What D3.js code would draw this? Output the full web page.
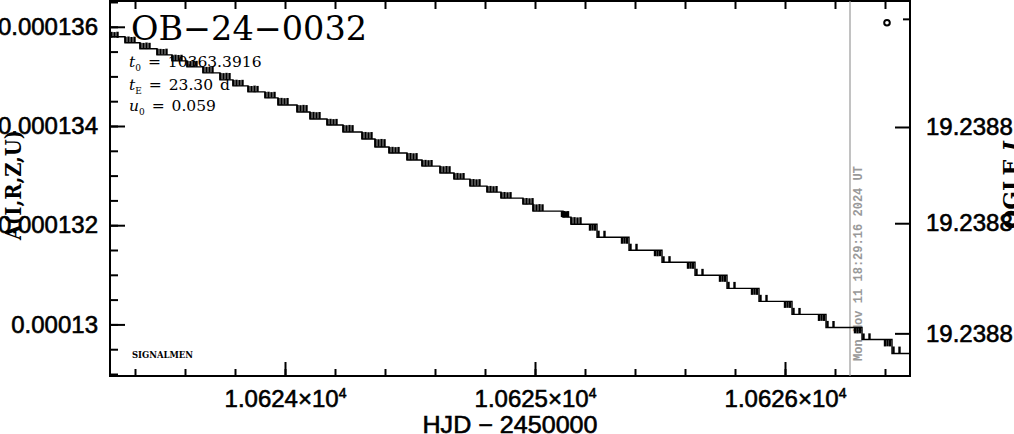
<!DOCTYPE html>
<html><head><meta charset="utf-8">
<script src="https://cdn.jsdelivr.net/npm/d3@7"></script>
<style>body{margin:0;background:#fff}svg{display:block}</style>
</head><body><svg id="c" width="1014" height="434"></svg>
<script>
// ---- model curve (step line) ----
const stepTimes = [10623.300,10623.360,10623.420,10623.488,10623.548,10623.608,10623.672,10623.740,10623.792,10623.852,
  10623.920,10623.972,10624.048,10624.100,10624.168,10624.232,10624.308,10624.360,10624.416,10624.488,
  10624.548,10624.620,10624.676,10624.740,10624.808,10624.864,10624.952,10624.992,10625.112,10625.144,
  10625.248,10625.376,10625.508,10625.640,10625.768,10625.896,10626.028,10626.164,10626.308,10626.428,10626.500];
const stepValues = [135.798e-6,135.677e-6,135.556e-6,135.434e-6,135.313e-6,135.192e-6,135.071e-6,134.929e-6,134.808e-6,134.687e-6,
  134.566e-6,134.424e-6,134.283e-6,134.141e-6,134.020e-6,133.879e-6,133.737e-6,133.576e-6,133.455e-6,133.313e-6,
  133.192e-6,133.051e-6,132.929e-6,132.788e-6,132.667e-6,132.545e-6,132.424e-6,132.283e-6,132.162e-6,132.020e-6,
  131.758e-6,131.495e-6,131.253e-6,130.990e-6,130.727e-6,130.465e-6,130.202e-6,129.939e-6,129.697e-6,129.414e-6,129.414e-6];

// ---- observations (time, value, error) ----
const obsTimes = [10623.306,10623.318,10623.330,
  10623.362,10623.374,10623.386,10623.398, 10623.422,10623.434,10623.446,10623.458, 10623.490,10623.502,10623.514,10623.526,
  10623.550,10623.562,10623.574,10623.586, 10623.610,10623.622,10623.634,10623.646, 10623.674,10623.686,10623.698,10623.710,
  10623.742,10623.754,10623.766,10623.778, 10623.794,10623.806,10623.818,10623.830, 10623.854,10623.866,10623.878,10623.890,
  10623.922,10623.934,10623.946,10623.958, 10623.974,10623.986,10623.998,10624.010, 10624.050,10624.062,10624.074,10624.086,
  10624.102,10624.114,10624.126,10624.138, 10624.170,10624.182,10624.194,10624.206, 10624.234,10624.246,10624.258,10624.270,
  10624.310,10624.322,10624.334,10624.346, 10624.362,10624.374,10624.386,10624.398, 10624.418,10624.430,10624.442,10624.454,
  10624.490,10624.502,10624.514,10624.526, 10624.550,10624.562,10624.574,10624.586, 10624.622,10624.634,10624.646,10624.658,
  10624.678,10624.690,10624.702,10624.714, 10624.742,10624.754,10624.766,10624.778, 10624.810,10624.822,10624.834,10624.846,
  10624.866,10624.878,10624.890,10624.902, 10624.954,10624.966,10624.978,10624.990, 10624.994,10625.006,10625.018,10625.030,
  10625.108,10625.116,10625.124,10625.132, 10625.146,10625.158,10625.170,10625.182,
  10625.220,10625.230,10625.240,10625.254,10625.278, 10625.348,10625.358,10625.368,10625.382,10625.406,
  10625.480,10625.490,10625.500,10625.514,10625.538, 10625.612,10625.622,10625.632,10625.646,10625.670,
  10625.740,10625.750,10625.760,10625.774,10625.798, 10625.868,10625.878,10625.888,10625.902,10625.926,
  10626.000,10626.010,10626.020,10626.034,10626.058, 10626.136,10626.146,10626.156,10626.170,10626.194,
  10626.280,10626.290,10626.300,10626.314,10626.338, 10626.400,10626.410,10626.420,10626.434,10626.458];
const obsValues = [135.838e-6,135.838e-6,135.838e-6,
  135.738e-6,135.738e-6,135.738e-6,135.738e-6, 135.617e-6,135.617e-6,135.617e-6,135.617e-6, 135.495e-6,135.495e-6,135.495e-6,135.495e-6,
  135.374e-6,135.374e-6,135.374e-6,135.374e-6, 135.253e-6,135.253e-6,135.253e-6,135.253e-6, 135.132e-6,135.132e-6,135.132e-6,135.132e-6,
  135.000e-6,135.000e-6,135.000e-6,135.000e-6, 134.869e-6,134.869e-6,134.869e-6,134.869e-6, 134.748e-6,134.748e-6,134.748e-6,134.748e-6,
  134.627e-6,134.627e-6,134.627e-6,134.627e-6, 134.495e-6,134.495e-6,134.495e-6,134.495e-6, 134.354e-6,134.354e-6,134.354e-6,134.354e-6,
  134.212e-6,134.212e-6,134.212e-6,134.212e-6, 134.081e-6,134.081e-6,134.081e-6,134.081e-6, 133.950e-6,133.950e-6,133.950e-6,133.950e-6,
  133.808e-6,133.808e-6,133.808e-6,133.808e-6, 133.657e-6,133.657e-6,133.657e-6,133.657e-6, 133.516e-6,133.516e-6,133.516e-6,133.516e-6,
  133.384e-6,133.384e-6,133.384e-6,133.384e-6, 133.253e-6,133.253e-6,133.253e-6,133.253e-6, 133.122e-6,133.122e-6,133.122e-6,133.122e-6,
  132.990e-6,132.990e-6,132.990e-6,132.990e-6, 132.859e-6,132.859e-6,132.859e-6,132.859e-6, 132.728e-6,132.728e-6,132.728e-6,132.728e-6,
  132.606e-6,132.606e-6,132.606e-6,132.606e-6, 132.485e-6,132.485e-6,132.485e-6,132.485e-6, 132.354e-6,132.354e-6,132.354e-6,132.354e-6,
  132.223e-6,132.223e-6,132.223e-6,132.223e-6, 132.091e-6,132.091e-6,132.091e-6,132.091e-6,
  131.955e-6,131.955e-6,131.955e-6,131.824e-6,131.824e-6, 131.692e-6,131.692e-6,131.692e-6,131.561e-6,131.561e-6,
  131.435e-6,131.435e-6,131.435e-6,131.314e-6,131.314e-6, 131.187e-6,131.187e-6,131.187e-6,131.056e-6,131.056e-6,
  130.924e-6,130.924e-6,130.924e-6,130.793e-6,130.793e-6, 130.662e-6,130.662e-6,130.662e-6,130.531e-6,130.531e-6,
  130.399e-6,130.399e-6,130.399e-6,130.268e-6,130.268e-6, 130.136e-6,130.136e-6,130.136e-6,130.005e-6,130.005e-6,
  129.879e-6,129.879e-6,129.879e-6,129.758e-6,129.758e-6, 129.626e-6,129.626e-6,129.626e-6,129.485e-6,129.485e-6];
const obsErrors = [0.060e-6,0.055e-6,0.062e-6,
  0.060e-6,0.066e-6,0.056e-6,0.062e-6, 0.061e-6,0.058e-6,0.066e-6,0.060e-6, 0.062e-6,0.060e-6,0.057e-6,0.064e-6,
  0.060e-6,0.064e-6,0.058e-6,0.062e-6, 0.061e-6,0.056e-6,0.064e-6,0.060e-6, 0.062e-6,0.060e-6,0.058e-6,0.066e-6,
  0.070e-6,0.066e-6,0.072e-6,0.068e-6, 0.060e-6,0.064e-6,0.058e-6,0.062e-6, 0.061e-6,0.058e-6,0.066e-6,0.060e-6,
  0.060e-6,0.064e-6,0.056e-6,0.062e-6, 0.070e-6,0.072e-6,0.066e-6,0.070e-6, 0.070e-6,0.066e-6,0.072e-6,0.068e-6,
  0.070e-6,0.072e-6,0.066e-6,0.070e-6, 0.060e-6,0.064e-6,0.058e-6,0.062e-6, 0.070e-6,0.066e-6,0.072e-6,0.068e-6,
  0.070e-6,0.072e-6,0.066e-6,0.070e-6, 0.080e-6,0.076e-6,0.082e-6,0.078e-6, 0.060e-6,0.064e-6,0.058e-6,0.062e-6,
  0.070e-6,0.072e-6,0.066e-6,0.070e-6, 0.060e-6,0.064e-6,0.058e-6,0.062e-6, 0.070e-6,0.066e-6,0.072e-6,0.068e-6,
  0.060e-6,0.064e-6,0.058e-6,0.062e-6, 0.070e-6,0.072e-6,0.066e-6,0.070e-6, 0.060e-6,0.064e-6,0.058e-6,0.062e-6,
  0.060e-6,0.064e-6,0.058e-6,0.062e-6, 0.060e-6,0.064e-6,0.058e-6,0.062e-6, 0.070e-6,0.066e-6,0.072e-6,0.068e-6,
  0.060e-6,0.064e-6,0.058e-6,0.062e-6, 0.070e-6,0.072e-6,0.066e-6,0.070e-6,
  0.066e-6,0.064e-6,0.066e-6,0.066e-6,0.064e-6, 0.066e-6,0.064e-6,0.066e-6,0.066e-6,0.064e-6,
  0.060e-6,0.062e-6,0.060e-6,0.060e-6,0.062e-6, 0.066e-6,0.064e-6,0.066e-6,0.066e-6,0.064e-6,
  0.066e-6,0.064e-6,0.066e-6,0.066e-6,0.064e-6, 0.066e-6,0.064e-6,0.066e-6,0.066e-6,0.064e-6,
  0.066e-6,0.064e-6,0.066e-6,0.066e-6,0.064e-6, 0.066e-6,0.064e-6,0.066e-6,0.066e-6,0.064e-6,
  0.060e-6,0.062e-6,0.060e-6,0.060e-6,0.062e-6, 0.070e-6,0.068e-6,0.070e-6,0.070e-6,0.068e-6];

// ---- axes ----
const xDomain = [10623.3, 10626.5];
const yDomain = [128.96e-6, 136.54e-6];
const leftTickValues = [130e-6, 132e-6, 134e-6, 136e-6];
const leftTickLabels = ["0.00013", "0.000132", "0.000134", "0.000136"];
const bottomTickValues = [10624, 10625, 10626];
const bottomTickMantissas = ["1.0624", "1.0625", "1.0626"];
const rightTickValues = [133.98e-6, 132.04e-6, 129.82e-6];
const rightTickLabels = ["19.2388", "19.2388", "19.2388"];
const rightMinorValues = [136.16e-6];

// ---- annotations ----
const eventName = "OB\u221224\u22120032";
const paramT0 = "10363.3916";
const paramTE = "23.30 d";
const paramU0 = "0.059";
const nowHJD = 10626.26;
const nowLabel = "Mon Nov 11 18:29:16 2024 UT";
const markerTime = 10626.408, markerValue = 136.08e-6;

const svg = d3.select("#c");
const L = 110, R = 910, T = 1, B = 376;
const x = d3.scaleLinear().domain(xDomain).range([L, R]);
const y = d3.scaleLinear().domain(yDomain).range([B, 0]);

const labelFont = "'Liberation Sans', Arial, sans-serif";
const serif = "'DejaVu Serif', serif";

function styleAxis(g) {
  g.select(".domain").remove();
  g.selectAll(".tick line").attr("stroke", "#000").attr("stroke-width", 2);
  g.selectAll("text").attr("font-family", labelFont).attr("font-size", 24).attr("fill", "#000")
    .attr("stroke", "#000").attr("stroke-width", 0.6);
}

const xMinor = d3.range(10623.4, 10626.45, 0.2);
const yMinor = d3.range(129e-6, 136.51e-6, 0.5e-6);

// bottom
svg.append("g").attr("transform", `translate(0,${B})`)
  .call(d3.axisBottom(x).tickValues(xMinor).tickSizeInner(-7).tickSizeOuter(0).tickFormat(() => "")).call(styleAxis);
const gb = svg.append("g").attr("transform", `translate(0,${B})`)
  .call(d3.axisBottom(x).tickValues(bottomTickValues).tickSizeInner(-14).tickSizeOuter(0).tickPadding(0).tickFormat(() => ""))
  .call(styleAxis);
gb.selectAll(".tick text").each(function(d, i) {
  const t = d3.select(this).attr("y", 31).attr("dy", null);
  t.append("tspan").text(bottomTickMantissas[i] + "\u00d710");
  t.append("tspan").attr("font-size", 14).attr("dy", -9).text("4");
});
// top
svg.append("g").attr("transform", `translate(0,${T})`)
  .call(d3.axisTop(x).tickValues(xMinor).tickSizeInner(-8).tickSizeOuter(0).tickFormat(() => "")).call(styleAxis);
// left
svg.append("g").attr("transform", `translate(${L},0)`)
  .call(d3.axisLeft(y).tickValues(yMinor).tickSizeInner(-8).tickSizeOuter(0).tickFormat(() => "")).call(styleAxis);
svg.append("g").attr("transform", `translate(${L},0)`)
  .call(d3.axisLeft(y).tickValues(leftTickValues).tickSizeInner(-15).tickSizeOuter(0).tickPadding(12)
    .tickFormat((d, i) => leftTickLabels[i])).call(styleAxis);
// right
svg.append("g").attr("transform", `translate(${R},0)`)
  .call(d3.axisRight(y).tickValues(rightMinorValues).tickSizeInner(-7).tickSizeOuter(0).tickFormat(() => "")).call(styleAxis);
svg.append("g").attr("transform", `translate(${R},0)`)
  .call(d3.axisRight(y).tickValues(rightTickValues).tickSizeInner(-15).tickSizeOuter(0).tickPadding(16)
    .tickFormat((d, i) => rightTickLabels[i])).call(styleAxis);

// frame
svg.append("rect").attr("x", L).attr("y", T).attr("width", R - L).attr("height", B - T)
  .attr("fill", "none").attr("stroke", "#000").attr("stroke-width", 2);

// now line
svg.append("line").attr("x1", x(nowHJD)).attr("x2", x(nowHJD)).attr("y1", T).attr("y2", B)
  .attr("stroke", "#999").attr("stroke-width", 1.2);
svg.append("text").attr("transform", `translate(${x(nowHJD) + 12},361) rotate(-90)`)
  .attr("font-family", "'Liberation Mono', 'DejaVu Sans Mono', monospace").attr("font-weight", "bold")
  .attr("font-size", 12.5).attr("fill", "#999").attr("textLength", 195).attr("lengthAdjust", "spacingAndGlyphs")
  .text(nowLabel);

// model step line
const stepData = stepTimes.map((t, i) => [t, stepValues[i]]);
svg.append("path").datum(stepData)
  .attr("d", d3.line().x(d => x(d[0])).y(d => y(d[1])).curve(d3.curveStepAfter))
  .attr("fill", "none").attr("stroke", "#000").attr("stroke-width", 1.4);

// observations as error bars
const obs = obsTimes.map((t, i) => ({t, v: obsValues[i], e: obsErrors[i]}));
svg.append("g").selectAll("line").data(obs).join("line")
  .attr("x1", d => x(d.t)).attr("x2", d => x(d.t))
  .attr("y1", d => y(d.v + d.e)).attr("y2", d => y(d.v - d.e))
  .attr("stroke", "#000").attr("stroke-width", 2.4);

// marker circle
svg.append("circle").attr("cx", x(markerTime)).attr("cy", y(markerValue)).attr("r", 2.8)
  .attr("fill", "none").attr("stroke", "#000").attr("stroke-width", 2);

// title + parameters
svg.append("text").attr("x", 131).attr("y", 40).attr("font-family", serif).attr("font-size", 33)
  .attr("textLength", 236).attr("lengthAdjust", "spacingAndGlyphs")
  .attr("fill", "#000").text(eventName);
function param(yb, sym, sub, val) {
  const t = svg.append("text").attr("x", 129).attr("y", yb).attr("font-family", serif)
    .attr("font-size", 15.5).attr("fill", "#000").attr("word-spacing", 2);
  t.append("tspan").attr("font-style", "italic").text(sym);
  t.append("tspan").attr("font-size", 9).attr("dy", 4).text(sub);
  t.append("tspan").attr("dy", -4).text(" = " + val);
}
param(67, "t", "0", paramT0);
param(90, "t", "E", paramTE);
param(111, "u", "0", paramU0);

svg.append("text").attr("x", 132).attr("y", 358).attr("font-family", serif).attr("font-weight", "bold")
  .attr("font-size", 8.5).attr("textLength", 61).attr("lengthAdjust", "spacingAndGlyphs").text("SIGNALMEN");

// axis titles
svg.append("text").attr("x", 510).attr("y", 433).attr("text-anchor", "middle")
  .attr("font-family", labelFont).attr("font-size", 24).attr("textLength", 175)
  .attr("stroke", "#000").attr("stroke-width", 0.6)
  .attr("lengthAdjust", "spacingAndGlyphs").text("HJD \u2212 2450000");
svg.append("text").attr("transform", "translate(21,240) rotate(-90)")
  .attr("font-family", serif).attr("font-weight", "bold").attr("font-size", 22)
  .attr("textLength", 110).attr("lengthAdjust", "spacingAndGlyphs").text("A(I,R,Z,U)");
const rl = svg.append("text").attr("transform", "translate(1019,229) rotate(-90)")
  .attr("font-family", serif).attr("font-weight", "bold").attr("font-size", 22);
rl.append("tspan").text("OGLE ");
rl.append("tspan").attr("font-style", "italic").text("I");
</script></body></html>
